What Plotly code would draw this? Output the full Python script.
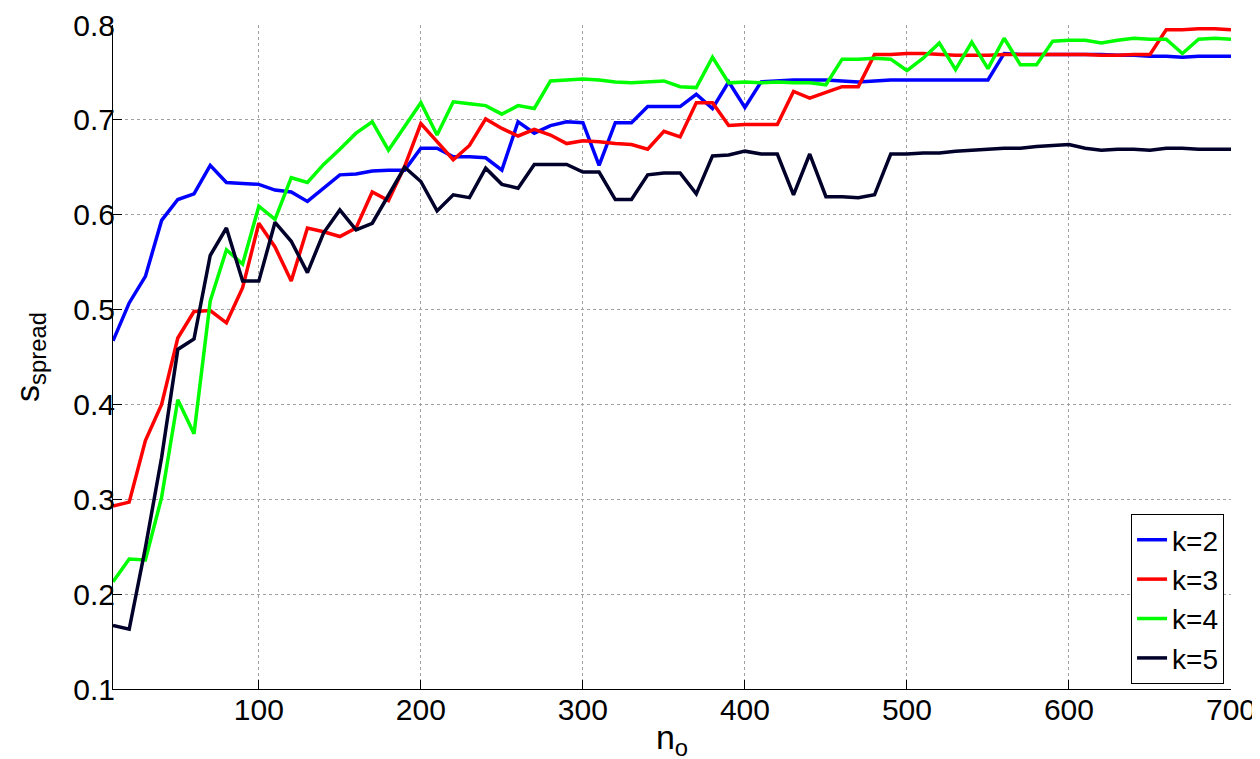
import plotly.graph_objects as go

n_o = list(range(10, 701, 10))

k2 = [0.467, 0.507, 0.535, 0.594, 0.616, 0.622, 0.652, 0.634, 0.633, 0.632,
      0.626, 0.624, 0.614, 0.628, 0.642, 0.643, 0.646, 0.647, 0.647, 0.670,
      0.670, 0.661, 0.661, 0.660, 0.647, 0.698, 0.686, 0.694, 0.698, 0.697,
      0.652, 0.697, 0.697, 0.714, 0.714, 0.714, 0.727, 0.712, 0.740, 0.713,
      0.740, 0.741, 0.742, 0.742, 0.742, 0.741, 0.740, 0.741, 0.742, 0.742,
      0.742, 0.742, 0.742, 0.742, 0.742, 0.770, 0.769, 0.769, 0.769, 0.769,
      0.769, 0.769, 0.768, 0.768, 0.767, 0.767, 0.766, 0.767, 0.767, 0.767]

k3 = [0.293, 0.297, 0.362, 0.400, 0.470, 0.498, 0.499, 0.486, 0.523, 0.591,
      0.566, 0.530, 0.586, 0.582, 0.577, 0.586, 0.624, 0.615, 0.651, 0.696,
      0.677, 0.658, 0.673, 0.701, 0.691, 0.683, 0.690, 0.684, 0.675, 0.678,
      0.677, 0.675, 0.674, 0.669, 0.688, 0.682, 0.718, 0.718, 0.694, 0.695,
      0.695, 0.695, 0.730, 0.723, 0.729, 0.735, 0.735, 0.769, 0.769, 0.770,
      0.770, 0.769, 0.768, 0.768, 0.768, 0.769, 0.769, 0.769, 0.769, 0.769,
      0.769, 0.768, 0.768, 0.769, 0.769, 0.795, 0.795, 0.796, 0.796, 0.795]

k4 = [0.213, 0.237, 0.236, 0.302, 0.405, 0.369, 0.509, 0.563, 0.548, 0.609,
      0.595, 0.639, 0.634, 0.653, 0.669, 0.686, 0.698, 0.668, 0.693, 0.718,
      0.684, 0.719, 0.717, 0.715, 0.706, 0.715, 0.712, 0.741, 0.742, 0.743,
      0.742, 0.740, 0.739, 0.740, 0.741, 0.735, 0.734, 0.766, 0.739, 0.740,
      0.739, 0.740, 0.739, 0.739, 0.737, 0.764, 0.764, 0.765, 0.764, 0.752,
      0.765, 0.781, 0.753, 0.782, 0.754, 0.786, 0.758, 0.758, 0.783, 0.784,
      0.784, 0.781, 0.784, 0.786, 0.785, 0.785, 0.770, 0.785, 0.786, 0.785]

k5 = [0.167, 0.163, 0.249, 0.344, 0.458, 0.469, 0.557, 0.586, 0.530, 0.530,
      0.592, 0.572, 0.539, 0.581, 0.605, 0.584, 0.591, 0.621, 0.650, 0.635,
      0.604, 0.621, 0.618, 0.649, 0.632, 0.628, 0.653, 0.653, 0.653, 0.645,
      0.645, 0.616, 0.616, 0.642, 0.644, 0.644, 0.622, 0.662, 0.663, 0.667,
      0.664, 0.664, 0.621, 0.664, 0.619, 0.619, 0.618, 0.621, 0.664, 0.664,
      0.665, 0.665, 0.667, 0.668, 0.669, 0.670, 0.670, 0.672, 0.673, 0.674,
      0.670, 0.668, 0.669, 0.669, 0.668, 0.670, 0.670, 0.669, 0.669, 0.669]

series_names = ["k=2", "k=3", "k=4", "k=5"]
series_values = [k2, k3, k4, k5]
series_colors = ["#0000ff", "#ff0000", "#00ff00", "#00002a"]

x_ticks = [100, 200, 300, 400, 500, 600, 700]
y_ticks = [0.1, 0.2, 0.3, 0.4, 0.5, 0.6, 0.7, 0.8]

FONT = "Liberation Sans, Arial, Helvetica, sans-serif"

fig = go.Figure()
for name, vals, col in zip(series_names, series_values, series_colors):
    fig.add_trace(go.Scatter(x=n_o, y=vals, mode="lines", name=name,
                             line=dict(color=col, width=3.5)))

fig.update_layout(
    width=1260, height=759, autosize=False,
    margin=dict(l=105, r=37, t=17, b=78),
    paper_bgcolor="white", plot_bgcolor="white",
    font=dict(family=FONT, size=30, color="black"),
    showlegend=True,
    legend=dict(
        x=0.9106, xanchor="left", y=0.0075, yanchor="bottom",
        bgcolor="white", bordercolor="black", borderwidth=1,
        font=dict(family=FONT, size=28, color="black"),
        tracegroupgap=0, itemwidth=30,
    ),
)

fig.update_xaxes(
    range=[10, 700], tickvals=x_ticks, ticktext=[str(v) for v in x_ticks],
    showline=True, linecolor="black", linewidth=1, mirror=False,
    ticks="inside", ticklen=9, tickcolor="black", tickwidth=1,
    showgrid=True, gridcolor="#a0a0a0", griddash="dot", gridwidth=1,
    zeroline=False, automargin=False, ticklabelstandoff=-6,
    tickfont=dict(family=FONT, size=30, color="black"),
    title=dict(text="n<sub>o</sub>", font=dict(family=FONT, size=34, color="black"), standoff=0),
)
fig.update_yaxes(
    range=[0.1, 0.8], tickvals=y_ticks, ticktext=["%.1f" % v for v in y_ticks],
    showline=True, linecolor="black", linewidth=1, mirror=False,
    ticks="inside", ticklen=9, tickcolor="black", tickwidth=1,
    showgrid=True, gridcolor="#a0a0a0", griddash="dot", gridwidth=1,
    zeroline=False, automargin=False, ticklabelstandoff=-9,
    tickfont=dict(family=FONT, size=30, color="black"),
    title=dict(text="s<sub>spread</sub>", font=dict(family=FONT, size=34, color="black"), standoff=24),
)

fig.write_html("out.html")
